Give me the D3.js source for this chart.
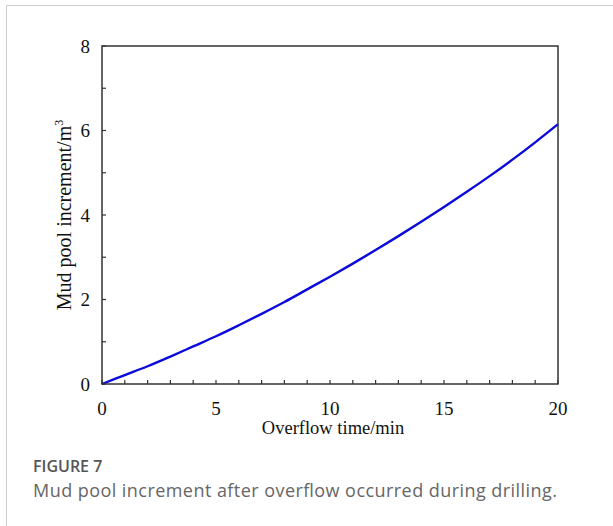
<!DOCTYPE html>
<html><head><meta charset="utf-8">
<script src="https://cdn.jsdelivr.net/npm/d3@7"></script>
<style>
body{margin:0;background:#fff;}
svg{display:block;}
</style></head>
<body>
<script>
const times = [0,1,2,3,4,5,6,7,8,9,10,11,12,13,14,15,16,17,18,19,20];
const increment = [0,0.21,0.42,0.65,0.89,1.13,1.39,1.66,1.94,2.24,2.54,2.85,3.17,3.50,3.84,4.19,4.55,4.92,5.31,5.72,6.15];
const xTickLabels = [0,5,10,15,20];
const yTickLabels = [0,2,4,6,8];
const xLabel = "Overflow time/min";
const yLabel = "Mud pool increment/m";
const figTitle = "FIGURE 7";
const figCaption = "Mud pool increment after overflow occurred during drilling.";

const W = 613, H = 526;
const svg = d3.select("body").append("svg").attr("width", W).attr("height", H);

// outer figure frame
svg.append("path").attr("d", "M6.5,526 V5.5 H613").attr("fill","none").attr("stroke","#cfcfcf").attr("stroke-width",1);

const L = 102, R = 558, T = 46, B = 384;
const x = d3.scaleLinear().domain([0,20]).range([L,R]);
const y = d3.scaleLinear().domain([0,8]).range([B,T]);

const serif = "'Liberation Serif','Times New Roman',serif";
const axisColor = "#333";

// ticks (inward)
const g = svg.append("g");
g.selectAll(".xt").data(d3.range(0,21,1)).join("line")
  .attr("x1", d=>x(d)).attr("x2", d=>x(d)).attr("y1", B).attr("y2", B-4)
  .attr("stroke", axisColor).attr("stroke-width",1.2);
g.selectAll(".yt").data(d3.range(0,9,1)).join("line")
  .attr("x1", L).attr("x2", L+4).attr("y1", d=>y(d)).attr("y2", d=>y(d))
  .attr("stroke", axisColor).attr("stroke-width",1.2);

// curve
const line = d3.line().x((d,i)=>x(times[i])).y(d=>y(d)).curve(d3.curveCatmullRom);
svg.append("path").datum(increment).attr("d", line)
  .attr("fill","none").attr("stroke","#0a0adc").attr("stroke-width",2.4);

// frame
svg.append("rect").attr("x",L).attr("y",T).attr("width",R-L).attr("height",B-T)
  .attr("fill","none").attr("stroke",axisColor).attr("stroke-width",1.5);

// tick labels
svg.selectAll(".xl").data(xTickLabels).join("text")
  .attr("x", d=>x(d)).attr("y", B+31).attr("text-anchor","middle")
  .attr("font-family", serif).attr("font-size", 19).attr("fill","#111").text(d=>d);
svg.selectAll(".yl").data(yTickLabels).join("text")
  .attr("x", L-12).attr("y", d=>y(d)+6.5).attr("text-anchor","end")
  .attr("font-family", serif).attr("font-size", 19).attr("fill","#111").text(d=>d);

// axis labels
svg.append("text").attr("x", 333).attr("y", 434).attr("text-anchor","middle")
  .attr("font-family", serif).attr("font-size", 18.5).attr("fill","#111").text(xLabel);
const yl = svg.append("text").attr("transform", `translate(71,215) rotate(-90)`)
  .attr("text-anchor","middle").attr("font-family", serif).attr("font-size", 20).attr("fill","#111");
yl.append("tspan").text(yLabel);
yl.append("tspan").attr("font-size", 12).attr("dy", -8).text("3");

// caption
svg.append("text").attr("x", 33).attr("y", 472).attr("font-family","'Open Sans','Noto Sans',sans-serif")
  .attr("font-size", 16).attr("font-weight", 600).attr("fill","#555").text(figTitle);
svg.append("text").attr("x", 33).attr("y", 497).attr("font-family","'Open Sans','Noto Sans',sans-serif")
  .attr("font-size", 18).attr("fill","#666").attr("textLength", 524).attr("lengthAdjust","spacing").text(figCaption);
</script>
</body></html>
